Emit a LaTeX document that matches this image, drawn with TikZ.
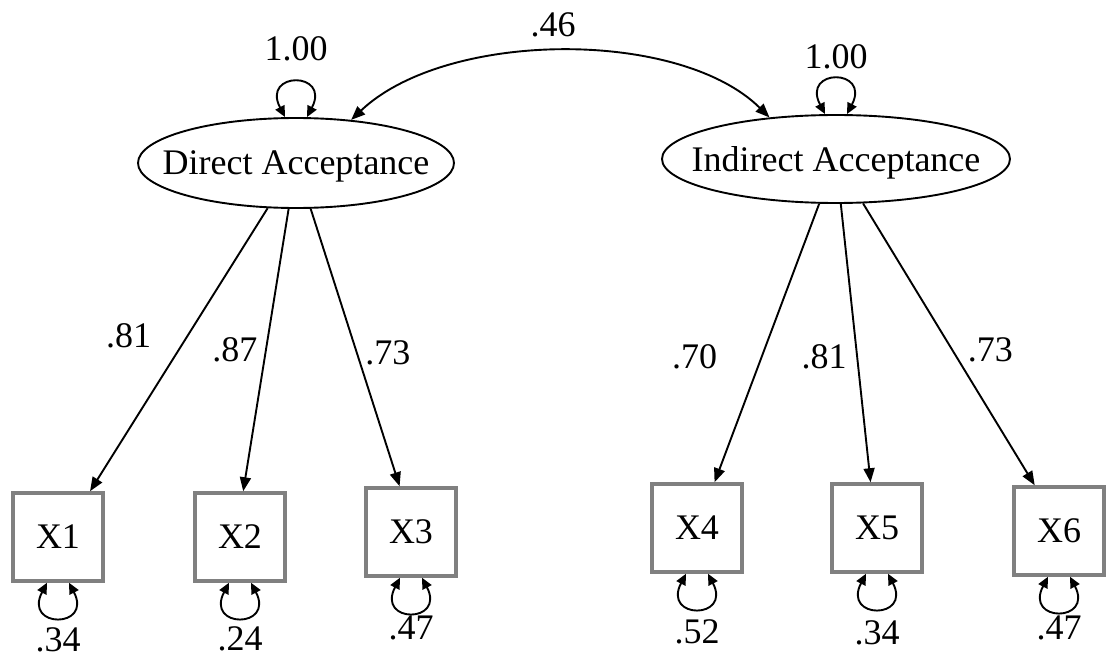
\documentclass[tikz,border=0pt]{standalone}
\usepackage{fontspec}
\setmainfont{Liberation Serif}
\usetikzlibrary{shapes,arrows.meta}
\usetikzlibrary{positioning}
\definecolor{boxgray}{RGB}{128,128,128}
% variance loop above a latent node: node, label shift, label
\newcommand\toploop[3]{%
  \draw [loopline] ([xshift=-11pt]#1.north) .. controls +(-24,-46) and +(24,-46) .. node [yshift=#2]{#3} ([xshift=11pt]#1.north);
}
% variance loop below an indicator box
\newcommand\botloop[3]{%
  \draw [loopline] ([xshift=-11pt]#1.south) .. controls +(-24,46) and +(24,46) .. node [yshift=-#2]{#3} ([xshift=11pt]#1.south);
}

\begin{document}
\begin{tikzpicture}[
x=1pt, y=-1pt,
font=\fontsize{36}{40}\selectfont,
latent/.style={
  ellipse,
  draw,
  line width=1.9pt,
  fill=white,
  inner xsep=-30pt,
  inner ysep=0pt,
  text depth=0pt,
  minimum height=90pt},
manifest/.style={
  rectangle,
  draw=boxgray,
  line width=3.5pt,
  minimum width=90pt,
  minimum height=88pt},
load/.style={-{Triangle[length=14pt,width=11pt]}, line width=1.9pt},
corr/.style={{Triangle[length=14pt,width=11pt]}-{Triangle[length=14pt,width=11pt]}, line width=1.9pt},
loopline/.style={{Triangle[length=11pt,width=10pt]}-{Triangle[length=11pt,width=10pt]}, line width=1.9pt}
]
\useasboundingbox (0,0) rectangle (1109,658);
\node[latent, minimum width=316pt] (da) at (296,163) {Direct Acceptance};
\node[latent, minimum width=348pt, minimum height=88pt] (ia) at (836,159) {Indirect Acceptance};
\node[manifest] (x1) at (58,537) {X1};
\node[manifest] (x2) at (240,537) {X2};
\node[manifest] (x3) at (411,532) {X3};
\node[manifest] (x4) at (697,528) {X4};
\node[manifest] (x5) at (877,528) {X5};
\node[manifest] (x6) at (1059,531) {X6};
% loadings
\draw [load] (da) -- node [pos=0.45, xshift=-59pt]{.81} (x1.55);
\draw [load] (da) -- node [pos=0.5, xshift=-31pt]{.87} (x2.86);
\draw [load] (da) -- node [pos=0.52, xshift=31pt]{.73} (x3.104);
\draw [load] (ia) -- node [pos=0.55, xshift=-67pt]{.70} (x4.69);
\draw [load] (ia) -- node [pos=0.55, xshift=-33pt]{.81} (x5.98);
\draw [load] (ia) -- node [pos=0.52, xshift=38pt]{.73} (x6.118);
% factor correlation
\draw [corr] (ia.148) .. controls +(-90,-89) and +(95,-90) .. node [xshift=-9pt, yshift=27pt]{.46} (da.38);
% variances
\toploop{da}{33.5pt}{1.00}
\toploop{ia}{23pt}{1.00}
\botloop{x1}{22.5pt}{.34}
\botloop{x2}{22pt}{.24}
\botloop{x3}{16pt}{.47}
\botloop{x4}{23.5pt}{.52}
\botloop{x5}{25pt}{.34}
\botloop{x6}{16.5pt}{.47}
\end{tikzpicture}
\end{document}
